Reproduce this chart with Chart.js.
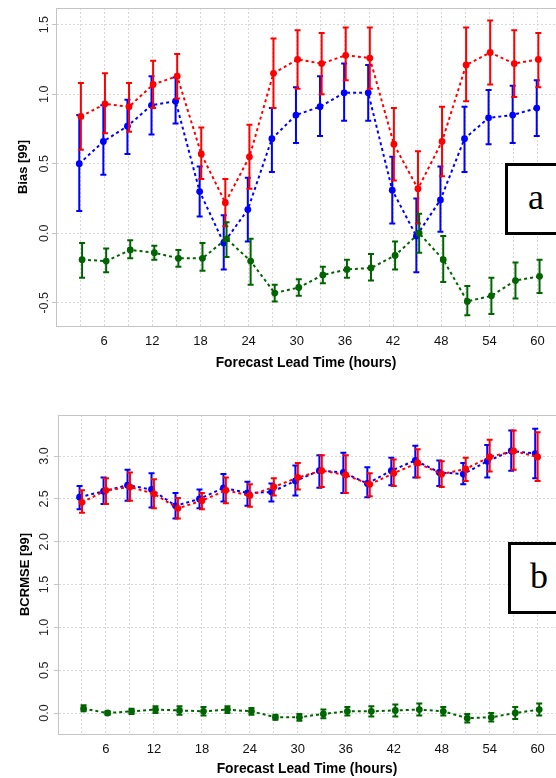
<!DOCTYPE html>
<html>
<head>
<meta charset="utf-8">
<script src="https://cdn.jsdelivr.net/npm/chart.js@4.4.1/dist/chart.umd.min.js"></script>
<style>
  body { margin: 0; width: 556px; height: 778px; overflow: hidden; background: #fff; position: relative; }
  canvas { position: absolute; left: 0; }
  #biasChart { top: 0; }
  #rmseChart { top: 380px; }
  .tag { position: absolute; width: 56px; height: 66px; border: 3px solid #000; background: #fff;
         font-family: "Liberation Serif", "DejaVu Serif", serif; font-size: 36px; line-height: 62px; text-align: center; }
</style>
</head>
<body>
<canvas id="biasChart" width="556" height="380"></canvas>
<canvas id="rmseChart" width="556" height="398"></canvas>
<div class="tag" style="left:505px; top:163px;">a</div>
<div class="tag" style="left:508px; top:542px;">b</div>
<script>
const hours = [3, 6, 9, 12, 15, 18, 21, 24, 27, 30, 33, 36, 39, 42, 45, 48, 51, 54, 57, 60];

// panel a : bias
const biasBlue   = [0.50, 0.66, 0.77, 0.92, 0.95, 0.30, -0.07, 0.17, 0.68, 0.85, 0.91, 1.01, 1.01, 0.31, -0.02, 0.24, 0.68, 0.83, 0.85, 0.90];
const biasBlueLo = [0.16, 0.42, 0.57, 0.71, 0.79, 0.12, -0.26, -0.06, 0.44, 0.65, 0.70, 0.81, 0.81, 0.07, -0.28, 0.01, 0.44, 0.64, 0.65, 0.70];
const biasBlueHi = [0.85, 0.92, 0.96, 1.13, 1.12, 0.48, 0.13, 0.40, 0.90, 1.05, 1.13, 1.22, 1.21, 0.55, 0.25, 0.48, 0.91, 1.03, 1.06, 1.10];
const biasRed    = [0.84, 0.93, 0.91, 1.07, 1.13, 0.57, 0.22, 0.55, 1.15, 1.25, 1.22, 1.28, 1.26, 0.64, 0.32, 0.66, 1.21, 1.30, 1.22, 1.25];
const biasRedLo  = [0.60, 0.72, 0.73, 0.90, 0.97, 0.39, 0.05, 0.32, 0.90, 1.04, 1.00, 1.10, 1.04, 0.38, 0.07, 0.41, 0.95, 1.07, 0.98, 1.05];
const biasRedHi  = [1.08, 1.15, 1.08, 1.24, 1.29, 0.76, 0.39, 0.78, 1.40, 1.46, 1.44, 1.48, 1.48, 0.90, 0.59, 0.91, 1.48, 1.53, 1.46, 1.44];
const biasGreen   = [-0.19, -0.20, -0.12, -0.14, -0.18, -0.18, -0.04, -0.20, -0.43, -0.39, -0.30, -0.26, -0.25, -0.16, 0.00, -0.19, -0.49, -0.45, -0.34, -0.31];
const biasGreenLo = [-0.32, -0.28, -0.18, -0.19, -0.24, -0.27, -0.17, -0.37, -0.49, -0.45, -0.36, -0.32, -0.34, -0.26, -0.14, -0.35, -0.59, -0.58, -0.47, -0.43];
const biasGreenHi = [-0.07, -0.11, -0.05, -0.09, -0.12, -0.07, 0.08, -0.04, -0.37, -0.33, -0.24, -0.19, -0.15, -0.06, 0.14, -0.02, -0.38, -0.32, -0.21, -0.19];

// panel b : bias-corrected rmse
const rmseBlue   = [2.52, 2.59, 2.66, 2.61, 2.42, 2.50, 2.63, 2.57, 2.58, 2.71, 2.83, 2.81, 2.68, 2.83, 2.95, 2.81, 2.79, 2.94, 3.06, 3.03];
const rmseBlueLo = [2.38, 2.44, 2.48, 2.40, 2.27, 2.39, 2.47, 2.42, 2.47, 2.54, 2.63, 2.57, 2.52, 2.66, 2.75, 2.65, 2.67, 2.75, 2.83, 2.74];
const rmseBlueHi = [2.65, 2.75, 2.84, 2.80, 2.57, 2.61, 2.79, 2.70, 2.68, 2.89, 3.01, 3.04, 2.87, 2.98, 3.12, 2.95, 2.92, 3.13, 3.30, 3.32];
const rmseRed    = [2.46, 2.60, 2.64, 2.56, 2.39, 2.48, 2.60, 2.54, 2.64, 2.75, 2.83, 2.78, 2.67, 2.80, 2.92, 2.79, 2.85, 2.99, 3.06, 2.99];
const rmseRedLo  = [2.34, 2.44, 2.48, 2.39, 2.27, 2.38, 2.45, 2.41, 2.54, 2.61, 2.64, 2.57, 2.53, 2.65, 2.75, 2.64, 2.71, 2.82, 2.84, 2.71];
const rmseRedHi  = [2.60, 2.74, 2.81, 2.73, 2.51, 2.57, 2.75, 2.67, 2.74, 2.92, 3.01, 3.01, 2.80, 2.96, 3.08, 2.94, 2.98, 3.19, 3.30, 3.28];
const rmseGreen   = [0.05, 0.00, 0.02, 0.04, 0.03, 0.02, 0.04, 0.02, -0.05, -0.05, -0.01, 0.02, 0.02, 0.03, 0.04, 0.02, -0.06, -0.05, 0.00, 0.04];
const rmseGreenLo = [0.02, -0.02, -0.01, 0.00, -0.02, -0.03, 0.00, -0.02, -0.08, -0.09, -0.06, -0.03, -0.04, -0.04, -0.03, -0.03, -0.11, -0.10, -0.07, -0.03];
const rmseGreenHi = [0.09, 0.02, 0.05, 0.08, 0.08, 0.07, 0.08, 0.06, -0.02, -0.01, 0.04, 0.07, 0.08, 0.10, 0.11, 0.07, -0.01, 0.00, 0.07, 0.11];

const BLUE = '#0000ff', RED = '#ff0000', GREEN = '#006400';

// error bars drawn just before each dataset so points sit on top
const errorBars = {
  id: 'errorBars',
  beforeDatasetDraw(chart, args) {
    const ds = chart.data.datasets[args.index];
    if (!ds.lo) return;
    const { ctx, chartArea } = chart;
    const xs = chart.scales.x, ys = chart.scales.y;
    ctx.save();
    ctx.beginPath();
    ctx.rect(chartArea.left, chartArea.top, chartArea.right - chartArea.left, chartArea.bottom - chartArea.top);
    ctx.clip();
    ctx.strokeStyle = ds.borderColor;
    ctx.lineWidth = 2;
    ds.data.forEach((p, i) => {
      const x = xs.getPixelForValue(p.x);
      const y1 = ys.getPixelForValue(ds.lo[i]);
      const y2 = ys.getPixelForValue(ds.hi[i]);
      ctx.beginPath();
      ctx.moveTo(x, y1); ctx.lineTo(x, y2);
      ctx.moveTo(x - 3, y1); ctx.lineTo(x + 3, y1);
      ctx.moveTo(x - 3, y2); ctx.lineTo(x + 3, y2);
      ctx.stroke();
    });
    ctx.restore();
  }
};

// top frame line + rotated y tick labels
const frame = {
  id: 'frame',
  beforeDatasetsDraw(chart) {
    const { ctx, chartArea } = chart;
    ctx.save();
    ctx.strokeStyle = '#c4c4c4';
    ctx.lineWidth = 1;
    ctx.beginPath();
    ctx.moveTo(chartArea.left, chartArea.top + 0.5);
    ctx.lineTo(chartArea.right, chartArea.top + 0.5);
    ctx.stroke();
    ctx.restore();
  },
  afterDraw(chart, args, opts) {
    const { ctx, chartArea } = chart;
    const ys = chart.scales.y;
    ctx.save();
    ctx.fillStyle = '#222';
    ctx.font = '12.5px "Liberation Sans", Arial, sans-serif';
    ctx.textAlign = 'center';
    ctx.textBaseline = 'middle';
    ys.ticks.forEach(t => {
      const y = ys.getPixelForValue(t.value);
      ctx.save();
      ctx.translate(chartArea.left - opts.labelGap, y);
      ctx.rotate(-Math.PI / 2);
      ctx.fillText(t.value.toFixed(1), 0, 0);
      ctx.restore();
    });
    ctx.restore();
  }
};

function series(vals, lo, hi, color, dodge, order) {
  return {
    data: hours.map((h, i) => ({ x: h + dodge, y: vals[i] })),
    lo, hi,
    borderColor: color,
    backgroundColor: color,
    borderWidth: 2,
    borderDash: [3, 3],
    pointRadius: 3.4,
    pointBorderWidth: 0,
    pointBackgroundColor: color,
    tension: 0,
    order
  };
}

function makeChart(id, cfg) {
  new Chart(document.getElementById(id), {
    type: 'line',
    data: { datasets: cfg.datasets },
    plugins: [errorBars, frame],
    options: {
      responsive: false,
      animation: false,
      layout: { autoPadding: false, padding: { top: cfg.padTop, left: 0, right: 0, bottom: 0 } },
      plugins: {
        legend: { display: false },
        tooltip: { enabled: false },
        frame: { labelGap: cfg.labelGap }
      },
      scales: {
        x: {
          type: 'linear',
          min: 0,
          max: 62.3,
          afterBuildTicks: s => { s.ticks = s.ticks.filter(t => t.value % 3 === 0); },
          afterFit: s => { s.height = cfg.xHeight; s.paddingLeft = 0; s.paddingRight = 0; },
          ticks: {
            stepSize: 3,
            includeBounds: false,
            autoSkip: false,
            maxRotation: 0,
            padding: 8,
            color: '#111',
            font: { family: '"Liberation Sans", Arial, sans-serif', size: 13 },
            callback: v => (v > 0 && v % 6 === 0) ? String(v) : ''
          },
          grid: { color: '#d8d8d8', lineWidth: 1, drawTicks: false },
          border: { color: '#c4c4c4', dash: [2, 2] },
          title: {
            display: true,
            text: 'Forecast Lead Time (hours)',
            color: '#000',
            font: { family: '"Liberation Sans", Arial, sans-serif', size: 13.8, weight: 'bold' },
            padding: { top: 0, bottom: cfg.xTitlePad }
          }
        },
        y: {
          min: cfg.yMin,
          max: cfg.yMax,
          afterFit: s => { s.width = cfg.yWidth; s.paddingTop = 0; s.paddingBottom = 0; },
          ticks: { stepSize: 0.5, includeBounds: false, display: false },
          grid: { color: '#d8d8d8', lineWidth: 1, drawTicks: true, tickLength: 4, tickColor: '#c4c4c4' },
          border: { color: '#c4c4c4', dash: [2, 2] },
          title: {
            display: true,
            text: cfg.yTitle,
            color: '#000',
            font: { family: '"Liberation Sans", Arial, sans-serif', size: 13, weight: 'bold' },
            padding: { top: cfg.yTitlePad, bottom: 0 }
          }
        }
      }
    }
  });
}

makeChart('biasChart', {
  datasets: [
    series(biasBlue, biasBlueLo, biasBlueHi, BLUE, -0.1, 3),
    series(biasRed, biasRedLo, biasRedHi, RED, 0.1, 2),
    series(biasGreen, biasGreenLo, biasGreenHi, GREEN, 0.25, 1)
  ],
  yMin: -0.667, yMax: 1.62, yTitle: 'Bias [99]',
  padTop: 8, xHeight: 54, xTitlePad: 8.7, yWidth: 56, yTitlePad: 16, labelGap: 11
});

makeChart('rmseChart', {
  datasets: [
    series(rmseBlue, rmseBlueLo, rmseBlueHi, BLUE, -0.3, 3),
    series(rmseRed, rmseRedLo, rmseRedHi, RED, 0, 2),
    series(rmseGreen, rmseGreenLo, rmseGreenHi, GREEN, 0.2, 1)
  ],
  yMin: -0.245, yMax: 3.48, yTitle: 'BCRMSE [99]',
  padTop: 35, xHeight: 44, xTitlePad: 0.7, yWidth: 58, yTitlePad: 18, labelGap: 13
});
</script>
</body>
</html>
